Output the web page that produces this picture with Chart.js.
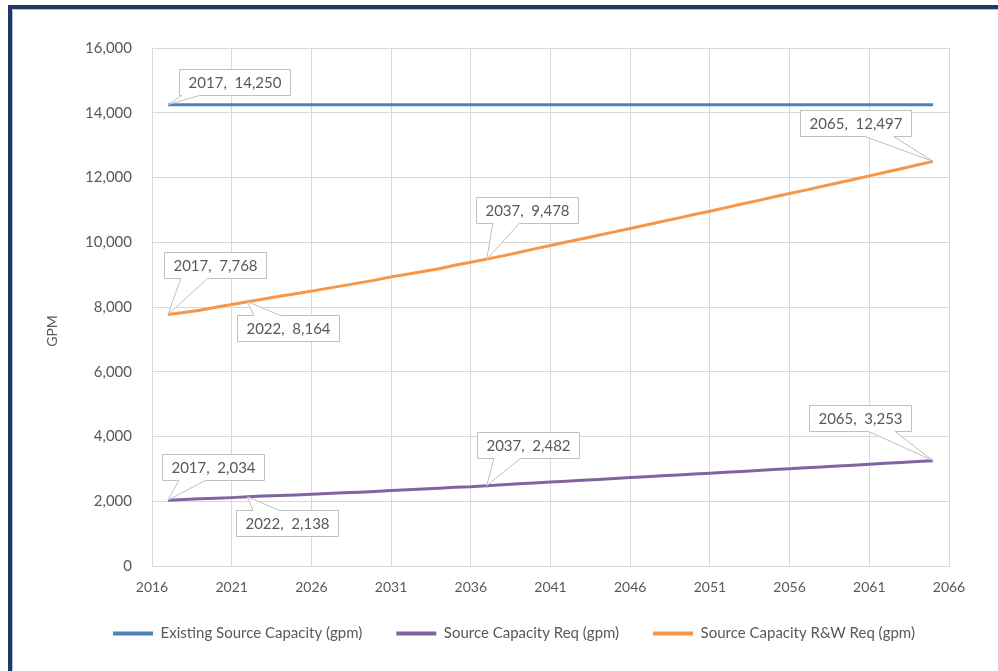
<!DOCTYPE html>
<html><head><meta charset="utf-8">
<script src="https://cdn.jsdelivr.net/npm/chart.js@4.4.0/dist/chart.umd.min.js"></script>
<style>
html,body{margin:0;padding:0;background:#fff;width:998px;height:671px;overflow:hidden;}
#frame{position:absolute;left:8px;top:5px;width:1100px;height:800px;border-left:4px solid #1f3864;border-top:4px solid #1f3864;}
#inner{position:absolute;left:0;top:0;width:100%;height:100%;border-left:1px solid #b4c0d0;border-top:1px solid #b4c0d0;box-sizing:border-box;}
canvas{position:absolute;left:0;top:0;}
</style></head><body>
<div id="frame"><div id="inner"></div></div>
<canvas id="c" width="998" height="671"></canvas>
<script>
const years = [2017,2018,2019,2020,2021,2022,2023,2024,2025,2026,2027,2028,2029,2030,2031,2032,2033,2034,2035,2036,2037,2038,2039,2040,2041,2042,2043,2044,2045,2046,2047,2048,2049,2050,2051,2052,2053,2054,2055,2056,2057,2058,2059,2060,2061,2062,2063,2064,2065];

const existingCapacity = [14250,14250,14250,14250,14250,14250,14250,14250,14250,14250,14250,14250,14250,14250,14250,14250,14250,14250,14250,14250,14250,14250,14250,14250,14250,14250,14250,14250,14250,14250,14250,14250,14250,14250,14250,14250,14250,14250,14250,14250,14250,14250,14250,14250,14250,14250,14250,14250,14250];

const capacityReq = [2034,2055,2075,2090,2112,2138,2160,2175,2195,2215,2240,2265,2280,2300,2330,2355,2380,2405,2430,2450,2482,2510,2537,2565,2592,2620,2647,2675,2702,2730,2757,2785,2812,2840,2867,2895,2922,2950,2977,3005,3032,3060,3087,3115,3142,3170,3197,3225,3253];

const capacityRWReq = [7768,7830,7900,7990,8075,8164,8245,8330,8410,8490,8575,8660,8745,8830,8930,9010,9095,9180,9290,9380,9478,9580,9685,9795,9900,10005,10110,10215,10320,10425,10530,10640,10745,10855,10960,11070,11180,11285,11395,11505,11610,11720,11830,11940,12050,12160,12270,12385,12497];

const seriesNames = ['Existing Source Capacity (gpm)','Source Capacity Req (gpm)','Source Capacity R&W Req (gpm)'];
const xTicks = {min:2016, max:2066, step:5};
const yTicks = {min:0, max:16000, step:2000};
const axisTitleY = 'GPM';

// callouts: dataset index, year label
const calloutPoints = [
  {ds:0, year:2017}, {ds:2, year:2017}, {ds:2, year:2022}, {ds:2, year:2037}, {ds:2, year:2065},
  {ds:1, year:2017}, {ds:1, year:2022}, {ds:1, year:2037}, {ds:1, year:2065}
];
// callout box placement relative to the point (style/position only)
const calloutPlacement = [
  {dx:67, dy:-23, base:[0.02,0.18]}, {dx:47, dy:-50}, {dx:40, dy:26}, {dx:40, dy:-49}, {dx:-78, dy:-38},
  {dx:45, dy:-33}, {dx:39, dy:26}, {dx:41, dy:-41}, {dx:-73, dy:-43}
];

const toXY = arr => years.map((yr,i)=>({x:yr, y:arr[i]}));
const colors = ['#4F81BD','#8064A2','#F79646'];
const seriesData = [existingCapacity, capacityReq, capacityRWReq];

const calloutPlugin = {
  id:'callouts',
  afterDatasetsDraw(chart){
    const ctx = chart.ctx, xs = chart.scales.x, ys = chart.scales.y;
    ctx.save();
    ctx.font = '15px Lato';
    calloutPoints.forEach((c,k)=>{
      const p = calloutPlacement[k];
      const idx = years.indexOf(c.year);
      const val = chart.data.datasets[c.ds].data[idx].y;
      const px = xs.getPixelForValue(c.year), py = ys.getPixelForValue(val);
      const text = c.year + ',  ' + val.toLocaleString('en-US');
      const tw = ctx.measureText(text).width;
      const w = Math.round(tw + 18), h = 26;
      const cx = px + p.dx, cy = py + p.dy;
      const l = Math.round(cx - w/2) + 0.5, t = Math.round(cy - h/2) + 0.5, r = l + w, b = t + h;
      const base = p.base || (px < cx ? [0.16,0.42] : [0.58,0.84]);
      const b1 = l + w*base[0], b2 = l + w*base[1];
      ctx.beginPath();
      if (py > b) {
        ctx.moveTo(l,t); ctx.lineTo(r,t); ctx.lineTo(r,b); ctx.lineTo(b2,b); ctx.lineTo(px,py); ctx.lineTo(b1,b); ctx.lineTo(l,b); ctx.closePath();
      } else {
        ctx.moveTo(l,t); ctx.lineTo(b1,t); ctx.lineTo(px,py); ctx.lineTo(b2,t); ctx.lineTo(r,t); ctx.lineTo(r,b); ctx.lineTo(l,b); ctx.closePath();
      }
      ctx.fillStyle = '#fff'; ctx.fill();
      ctx.strokeStyle = '#bfbfbf'; ctx.lineWidth = 1; ctx.stroke();
      ctx.fillStyle = '#595959'; ctx.textAlign = 'center'; ctx.textBaseline = 'middle';
      ctx.fillText(text, l + w/2, t + h/2 + 1);
    });
    ctx.restore();
  }
};

const yTitlePlugin = {
  id:'yTitle',
  afterDraw(chart){
    const ctx = chart.ctx;
    ctx.save();
    ctx.font = '14px Lato';
    ctx.fillStyle = '#595959';
    ctx.textAlign = 'center'; ctx.textBaseline = 'middle';
    ctx.translate(52, 331);
    ctx.rotate(-Math.PI/2);
    ctx.fillText(axisTitleY, 0, 0);
    ctx.restore();
  }
};

new Chart(document.getElementById('c'), {
  type:'line',
  data:{
    datasets: seriesData.map((arr,i)=>({
      label: seriesNames[i],
      data: toXY(arr),
      borderColor: colors[i],
      backgroundColor: colors[i],
      borderWidth: 3,
      pointRadius: 0,
      tension: 0,
      fill: false
    }))
  },
  options:{
    responsive:false,
    animation:false,
    events:[],
    layout:{padding:{left:79, right:49, top:48, bottom:20}},
    scales:{
      x:{
        type:'linear', min:xTicks.min, max:xTicks.max,
        afterFit(s){ s.height = 26; },
        ticks:{stepSize:xTicks.step, padding:13, color:'#595959', font:{family:'Lato', size:14}, callback:v=>String(v), maxRotation:0},
        grid:{color:'#d9d9d9', drawTicks:false, lineWidth:1},
        border:{color:'#d9d9d9'}
      },
      y:{
        min:yTicks.min, max:yTicks.max,
        afterFit(s){ s.width = 73; },
        ticks:{stepSize:yTicks.step, padding:20, color:'#595959', font:{family:'Lato', size:15}},
        grid:{color:'#d9d9d9', drawTicks:false, lineWidth:1},
        border:{display:false}
      }
    },
    plugins:{
      legend:{
        position:'bottom',
        labels:{
          boxWidth:40, boxHeight:4, padding:34, color:'#595959',
          font:{family:'Lato', size:15},
          generateLabels(chart){
            const items = Chart.defaults.plugins.legend.labels.generateLabels(chart);
            items.forEach(it=>{ it.lineWidth = 0; it.strokeStyle = 'rgba(0,0,0,0)'; });
            return items;
          }
        }
      },
      tooltip:{enabled:false}
    }
  },
  plugins:[calloutPlugin, yTitlePlugin]
});
</script>
</body></html>
